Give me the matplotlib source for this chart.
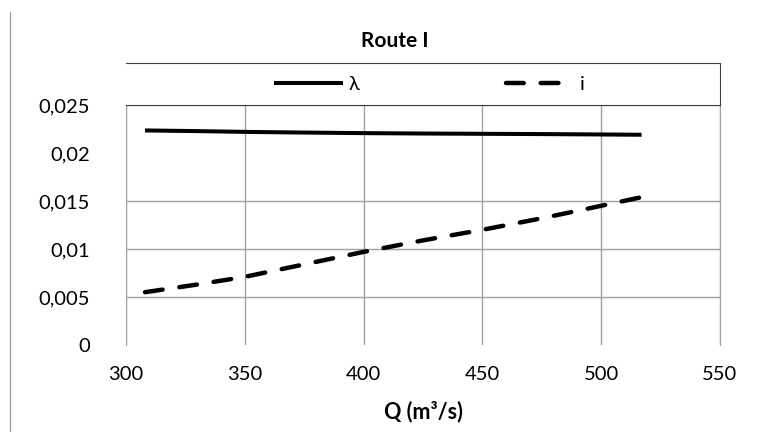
import matplotlib
matplotlib.use("Agg")
import matplotlib.pyplot as plt
from matplotlib.lines import Line2D
from matplotlib.ticker import FuncFormatter

plt.rcParams['font.family'] = ['Lato', 'DejaVu Sans']

# data
q = [308, 330, 350, 375, 400, 425, 450, 475, 500, 517]
lam = [0.02235, 0.02228, 0.0222, 0.02213, 0.02207, 0.02203, 0.0220, 0.02197, 0.02193, 0.0219]
slope_i = [0.0055, 0.0063, 0.0071, 0.0084, 0.0097, 0.0109, 0.0120, 0.0132, 0.0145, 0.0154]
xticks = [300, 350, 400, 450, 500, 550]
yticks = [0, 0.005, 0.01, 0.015, 0.02, 0.025]

fig = plt.figure(figsize=(7.74, 4.32), dpi=100)
ax = fig.add_axes([126/774, 1 - 345/432, 594/774, 240/432])

l1, = ax.plot(q, lam, color='black', lw=2.9, solid_capstyle='butt')
l2, = ax.plot(q, slope_i, color='black', lw=3.2, dashes=(4.0, 3.8), dash_capstyle='round')

ax.set_xlim(300, 550)
ax.set_ylim(0, 0.025)
ax.set_xticks(xticks)
ax.set_yticks(yticks)
ax.yaxis.set_major_formatter(FuncFormatter(lambda v, p: ('%g' % v).replace('.', ',')))
ax.tick_params(length=0, labelsize=14.5)
ax.tick_params(axis='x', pad=15)
ax.tick_params(axis='y', pad=26)

ax.grid(True, color='#a0a0a0', lw=1.0)
ylines = ax.yaxis.get_gridlines()
ylines[0].set_visible(False)
ylines[4].set_visible(False)
ax.spines['bottom'].set_visible(False)
ax.spines['left'].set_color('#a0a0a0')
ax.spines['right'].set_color('#a0a0a0')
ax.spines['top'].set_color('#404040')
ax.set_axisbelow(True)

ax.set_xlabel('Q (m³/s)', fontsize=15.5, fontweight='bold', va='center')
ax.xaxis.set_label_coords(0.5, (345 - 412) / 240)

# legend box on top of the plot area
legax = fig.add_axes([126/774, 1 - 105/432, 594/774, 42/432])
legax.set_xticks([])
legax.set_yticks([])
legax.patch.set_alpha(0)
legax.spines['left'].set_visible(False)
legax.spines['bottom'].set_visible(False)
legax.spines['top'].set_color('#404040')
legax.spines['right'].set_color('#404040')
legax.legend([l1, l2], ['λ', 'i'], loc='center', ncol=2, frameon=False,
             fontsize=14.5, handlelength=3.4, handletextpad=0.3, columnspacing=7.25,
             bbox_to_anchor=(0.511, 0.5))

fig.text(395/774, 1 - 41/432, 'Route I', ha='center', va='center',
         fontsize=15, fontweight='bold')

fig.add_artist(Line2D([10/774, 10/774], [0, 1 - 12/432], color='#a0a0a0', lw=1.0))

fig.savefig('out.png', dpi=100)
plt.close()
